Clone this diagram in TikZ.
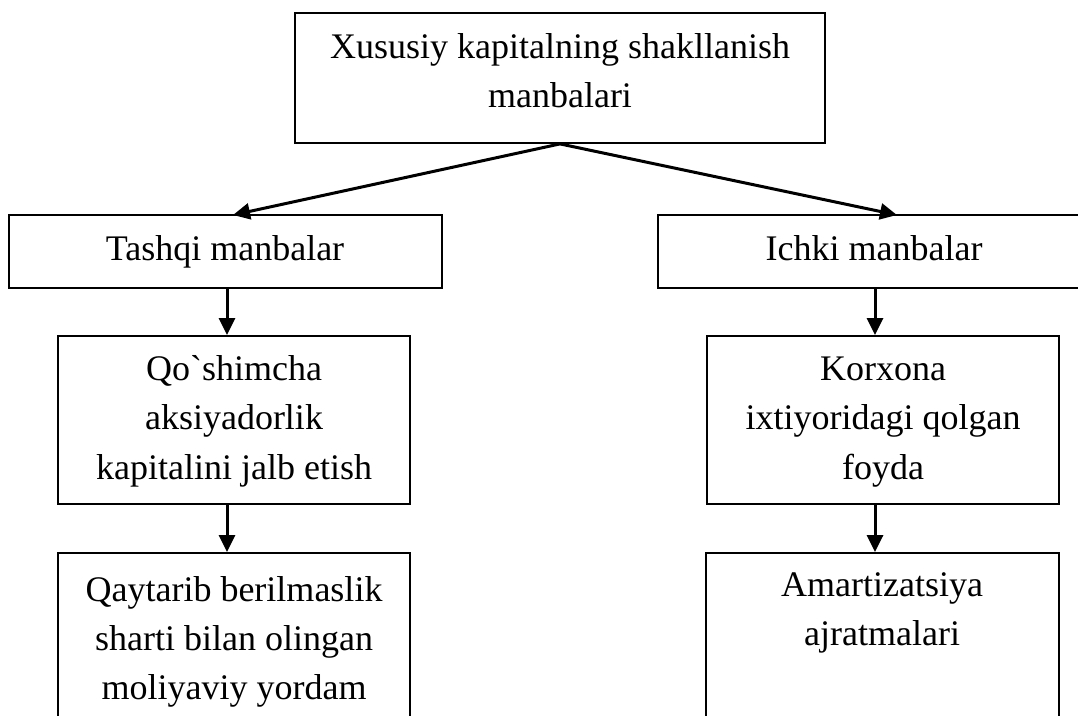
\documentclass[tikz,border=0pt]{standalone}
\usepackage{fontspec}
\setmainfont{Liberation Serif}[Ligatures=TeXOff]
\usetikzlibrary{arrows.meta}
\tikzset{
  box/.style={draw=black, line width=1.8pt, rectangle, inner sep=0pt},
  txt/.style={anchor=base, inner sep=0pt, font=\fontsize{36}{48}\selectfont},
  arr/.style={line width=3pt, -{Triangle[length=17pt,width=16pt]}}
}
\begin{document}
\begin{tikzpicture}[x=1pt,y=1pt]
  \useasboundingbox (0,0) rectangle (1078,-715);
  \clip (0,0) rectangle (1078,-715);

  % boxes
  \node[box, minimum width=530pt, minimum height=130pt] (top) at (560,-78) {};
  \node[box, minimum width=433pt, minimum height=73pt] (tashqi) at (225.5,-251.5) {};
  \node[box, minimum width=430pt, minimum height=73pt] (ichki) at (873,-251.5) {};
  \node[box, minimum width=352pt, minimum height=168pt] (qosh) at (234,-420) {};
  \node[box, minimum width=352pt, minimum height=168pt] (korx) at (883,-420) {};
  \node[box, minimum width=352pt, minimum height=207pt] (qayt) at (234,-656.5) {};
  \node[box, minimum width=353pt, minimum height=207pt] (amor) at (882.5,-656.5) {};

  % labels
  \node[txt] (top1) at (560,-58) {Xususiy kapitalning shakllanish};
  \node[txt] (top2) at (560,-107) {manbalari};
  \node[txt] (tas1) at (225,-260) {Tashqi manbalar};
  \node[txt] (ich1) at (874,-260) {Ichki manbalar};
  \node[txt] (qos1) at (234,-380) {Qo`shimcha};
  \node[txt] (qos2) at (234,-429) {aksiyadorlik};
  \node[txt] (qos3) at (234,-479) {kapitalini jalb etish};
  \node[txt] (kor1) at (883,-380) {Korxona};
  \node[txt] (kor2) at (883,-429) {ixtiyoridagi qolgan};
  \node[txt] (kor3) at (883,-479) {foyda};
  \node[txt] (qay1) at (234,-601) {Qaytarib berilmaslik};
  \node[txt] (qay2) at (234,-650) {sharti bilan olingan};
  \node[txt] (qay3) at (234,-699) {moliyaviy yordam};
  \node[txt] (amo1) at (882,-596) {Amartizatsiya};
  \node[txt] (amo2) at (882,-645) {ajratmalari};

  % arrow end points on the upper edges of the second row
  \coordinate (tipL) at (233,-215);
  \coordinate (tipR) at (897,-215);
  \coordinate (colL) at (227,0);
  \coordinate (colR) at (875,0);

  % connectors
  \draw[arr] (top.south) -- (tipL);
  \draw[arr] (top.south) -- (tipR);
  \draw[arr] (colL |- tashqi.south) -- (colL |- qosh.north);
  \draw[arr] (colL |- qosh.south) -- (colL |- qayt.north);
  \draw[arr] (colR |- ichki.south) -- (colR |- korx.north);
  \draw[arr] (colR |- korx.south) -- (colR |- amor.north);
\end{tikzpicture}
\end{document}
